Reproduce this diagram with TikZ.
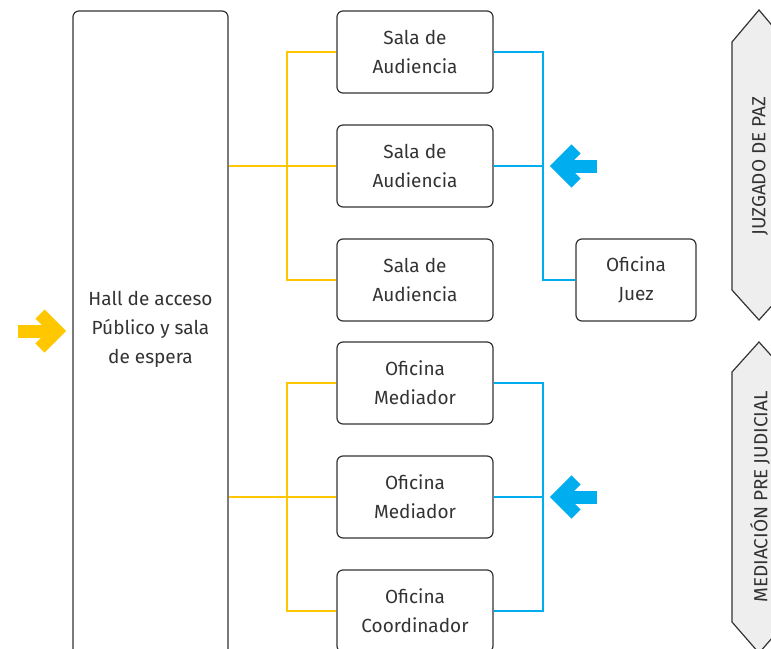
\documentclass[tikz,border=0pt]{standalone}
\usepackage{fontspec}
\setmainfont{Fira Sans}
\usetikzlibrary{calc}
\definecolor{yel}{HTML}{FFC700}
\definecolor{blu}{HTML}{00AEEF}
\definecolor{ink}{HTML}{333333}
\definecolor{hexfill}{HTML}{EEEEEE}
\tikzset{
  room/.style={draw=ink, line width=1.2pt, rounded corners=6pt, minimum width=156pt, minimum height=82pt, inner sep=0pt, align=center, font=\fontsize{19}{29}\selectfont, text=ink},
  yline/.style={draw=yel, line width=2pt},
  bline/.style={draw=blu, line width=2pt},
  yarrow/.style={draw=yel, line width=13pt, miter limit=10},
  barrow/.style={draw=blu, line width=13pt, miter limit=10},
  hexa/.style={draw=ink, line width=1.2pt, fill=hexfill},
  hexlabel/.style={rotate=90, font=\fontsize{19}{22}\selectfont, text=ink, inner sep=0pt}
}
\begin{document}
\begin{tikzpicture}[x=1pt,y=-1pt]
\useasboundingbox (0,0) rectangle (771,648);
\clip (0,0) rectangle (771,648);
% hall
\node[room, minimum height=660pt, minimum width=155pt] (hall) at (150.5,341) {};
\node[align=center, font=\fontsize{19}{29}\selectfont, text=ink] (hallt) at (150.5,329) {Hall de acceso\\Público y sala\\de espera};
% rooms
\node[room] (s1) at (415,52) {Sala de\\Audiencia};
\node[room] (s2) at (415,166) {Sala de\\Audiencia};
\node[room] (s3) at (415,280) {Sala de\\Audiencia};
\node[room, minimum width=120pt] (juez) at (636,280) {Oficina\\Juez};
\node[room] (m1) at (415,383) {Oficina\\Mediador};
\node[room] (m2) at (415,497) {Oficina\\Mediador};
\node[room] (m3) at (415,611) {Oficina\\Coordinador};
% yellow connectors
\draw[yline] (hall.east |- s2.west) -- (s2.west);
\draw[yline] (s1.west) -- ++(-49,0) |- (s3.west);
\draw[yline] (hall.east |- m2.west) -- (m2.west);
\draw[yline] (m1.west) -- ++(-49,0) |- (m3.west);
% blue connectors
\draw[bline] (s1.east) -- ++(49,0) |- (juez.west);
\draw[bline] (s2.east) -- ++(49,0);
\draw[bline] (m1.east) -- ++(49,0) |- (m3.east);
\draw[bline] (m2.east) -- ++(49,0);
% arrows
\coordinate (ya) at (57,331);
\draw[yarrow] (18,331) -- (ya);
\draw[yarrow] ($(ya)+(-17,-17)$) -- (ya) -- ($(ya)+(-17,17)$);
\coordinate (ba1) at (559,166);
\draw[barrow] (597,166) -- (ba1);
\draw[barrow] ($(ba1)+(17,-17)$) -- (ba1) -- ($(ba1)+(17,17)$);
\coordinate (ba2) at (559,497);
\draw[barrow] (597,497) -- (ba2);
\draw[barrow] ($(ba2)+(17,-17)$) -- (ba2) -- ($(ba2)+(17,17)$);
% hexagons
\draw[hexa] (759,10) -- (732,42) -- (732,290) -- (759,320) -- (786,290) -- (786,42) -- cycle;
\node[hexlabel] (jp) at (760,166) {JUZGADO DE PAZ};
\draw[hexa] (759,342) -- (732,372) -- (732,622) -- (759,653) -- (786,622) -- (786,372) -- cycle;
\node[hexlabel] (mp) at (760,497) {MEDIACIÓN PRE JUDICIAL};
\end{tikzpicture}
\end{document}
